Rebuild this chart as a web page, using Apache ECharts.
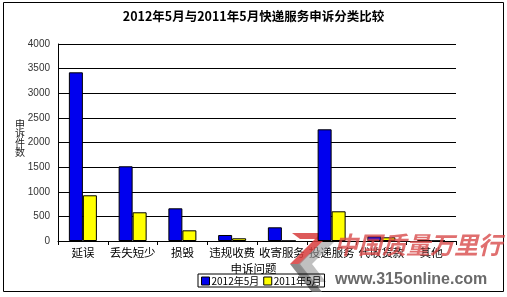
<!DOCTYPE html>
<html>
<head>
<meta charset="utf-8">
<script src="https://cdn.jsdelivr.net/npm/echarts@6/dist/echarts.min.js"></script>
<style>
  html, body { margin: 0; padding: 0; background: #fff; }
  #chart { width: 507px; height: 297px; }
</style>
</head>
<body>
<div id="chart"></div>
<script>
// Complaint categories and monthly counts
const categories = ['延误', '丢失短少', '损毁', '违规收费', '收寄服务', '投递服务', '代收货款', '其他'];
const may2012 = [3425, 1517, 664, 122, 278, 2268, 95, 14];
const may2011 = [928, 583, 217, 55, 4, 603, 75, 5];
const seriesNames = ['2012年5月', '2011年5月'];
const yTicks = { min: 0, max: 4000, interval: 500 };

const FONT = 'SimSun, "Noto Sans CJK SC", sans-serif';

const chart = echarts.init(document.getElementById('chart'), null, { renderer: 'canvas' });

chart.setOption({
  backgroundColor: '#fff',
  animation: false,
  title: {
    text: '2012年5月与2011年5月快递服务申诉分类比较',
    left: 'center',
    top: 10,
    padding: 0,
    textStyle: { fontSize: 12.5, fontWeight: 'bold', color: '#000', fontFamily: FONT }
  },
  grid: { left: 58, top: 44, right: 51, bottom: 56, containLabel: false },
  legend: {
    left: 198,
    top: 274,
    padding: [2, 3, 1, 3],
    borderColor: '#000',
    borderWidth: 1,
    itemWidth: 8,
    itemHeight: 8,
    itemGap: 4,
    icon: 'rect',
    itemStyle: { borderColor: '#000', borderWidth: 1 },
    textStyle: { fontSize: 10, color: '#000', fontFamily: FONT, padding: [0, 0, 0, -3] },
    data: seriesNames
  },
  xAxis: {
    type: 'category',
    data: categories,
    axisLine: { lineStyle: { color: '#000', width: 1 } },
    axisTick: { show: true, alignWithLabel: false, length: 4, lineStyle: { color: '#000' } },
    axisLabel: { fontSize: 11.5, color: '#000', margin: 6, fontFamily: FONT, interval: 0 }
  },
  yAxis: {
    type: 'value',
    min: yTicks.min,
    max: yTicks.max,
    interval: yTicks.interval,
    axisLine: { show: true, lineStyle: { color: '#000', width: 1 } },
    axisTick: { show: false },
    splitLine: { show: true, lineStyle: { color: '#000', width: 1 } },
    axisLabel: {
      fontSize: 10, color: '#333', margin: 8,
      fontFamily: 'Arial, "Liberation Sans", sans-serif',
      formatter: (v) => String(v)
    }
  },
  series: [
    {
      name: seriesNames[0],
      type: 'bar',
      data: may2012,
      barWidth: 14,
      barGap: '0%',
      itemStyle: { color: '#0000ee', borderColor: '#000', borderWidth: 1 }
    },
    {
      name: seriesNames[1],
      type: 'bar',
      data: may2011,
      barWidth: 14,
      barGap: '0%',
      itemStyle: { color: '#ffff00', borderColor: '#000', borderWidth: 1 }
    }
  ],
  graphic: [
    // outer frame
    {
      type: 'rect', silent: true, z: -1,
      shape: { x: 3.5, y: 2.5, width: 500, height: 289 },
      style: { fill: null, stroke: '#000', lineWidth: 1 }
    },
    // y-axis name, stacked vertically
    {
      type: 'text', left: 15, top: 119,
      style: { text: '申\n诉\n件\n数', fontSize: 10, lineHeight: 9.5, fill: '#222', fontFamily: FONT }
    },
    // x-axis name
    {
      type: 'text', left: 'center', top: 263, z: 5,
      style: { text: '申诉问题', x: 0, fontSize: 11.5, fill: '#000', fontFamily: FONT }
    },
    // site mark: logo strokes
    {
      type: 'polygon', z: 1, silent: true,
      shape: { points: [[292, 233], [330, 233], [326, 239], [300, 239]] },
      style: { fill: 'rgba(215,60,60,0.85)' }
    },
    {
      type: 'polygon', z: 1, silent: true,
      shape: { points: [[318, 236], [328, 236], [300, 264], [290, 264]] },
      style: { fill: 'rgba(215,60,60,0.85)' }
    },
    {
      type: 'polygon', z: 1, silent: true,
      shape: { points: [[290, 264], [300, 264], [322, 292], [312, 292]] },
      style: { fill: 'rgba(110,110,110,0.8)' }
    },
    {
      type: 'polygon', z: 1, silent: true,
      shape: { points: [[322, 242], [334, 242], [312, 264], [326, 282], [314, 282], [298, 264]] },
      style: { fill: 'rgba(150,150,150,0.6)' }
    },
    {
      type: 'text', left: 334, top: 233, z: 6, silent: true,
      style: {
        text: '中国质量万里行', fontSize: 24, fontStyle: 'italic', fontWeight: 'bold',
        fill: 'rgba(215,70,70,0.78)', fontFamily: '"Noto Sans CJK SC", sans-serif'
      }
    },
    {
      type: 'text', left: 335, top: 272, z: 6, silent: true,
      style: {
        text: 'www.315online.com', fontSize: 16, fontWeight: 'bold',
        fill: '#6a6a6a', fontFamily: 'Arial, "Liberation Sans", sans-serif'
      }
    }
  ]
});
</script>
</body>
</html>
